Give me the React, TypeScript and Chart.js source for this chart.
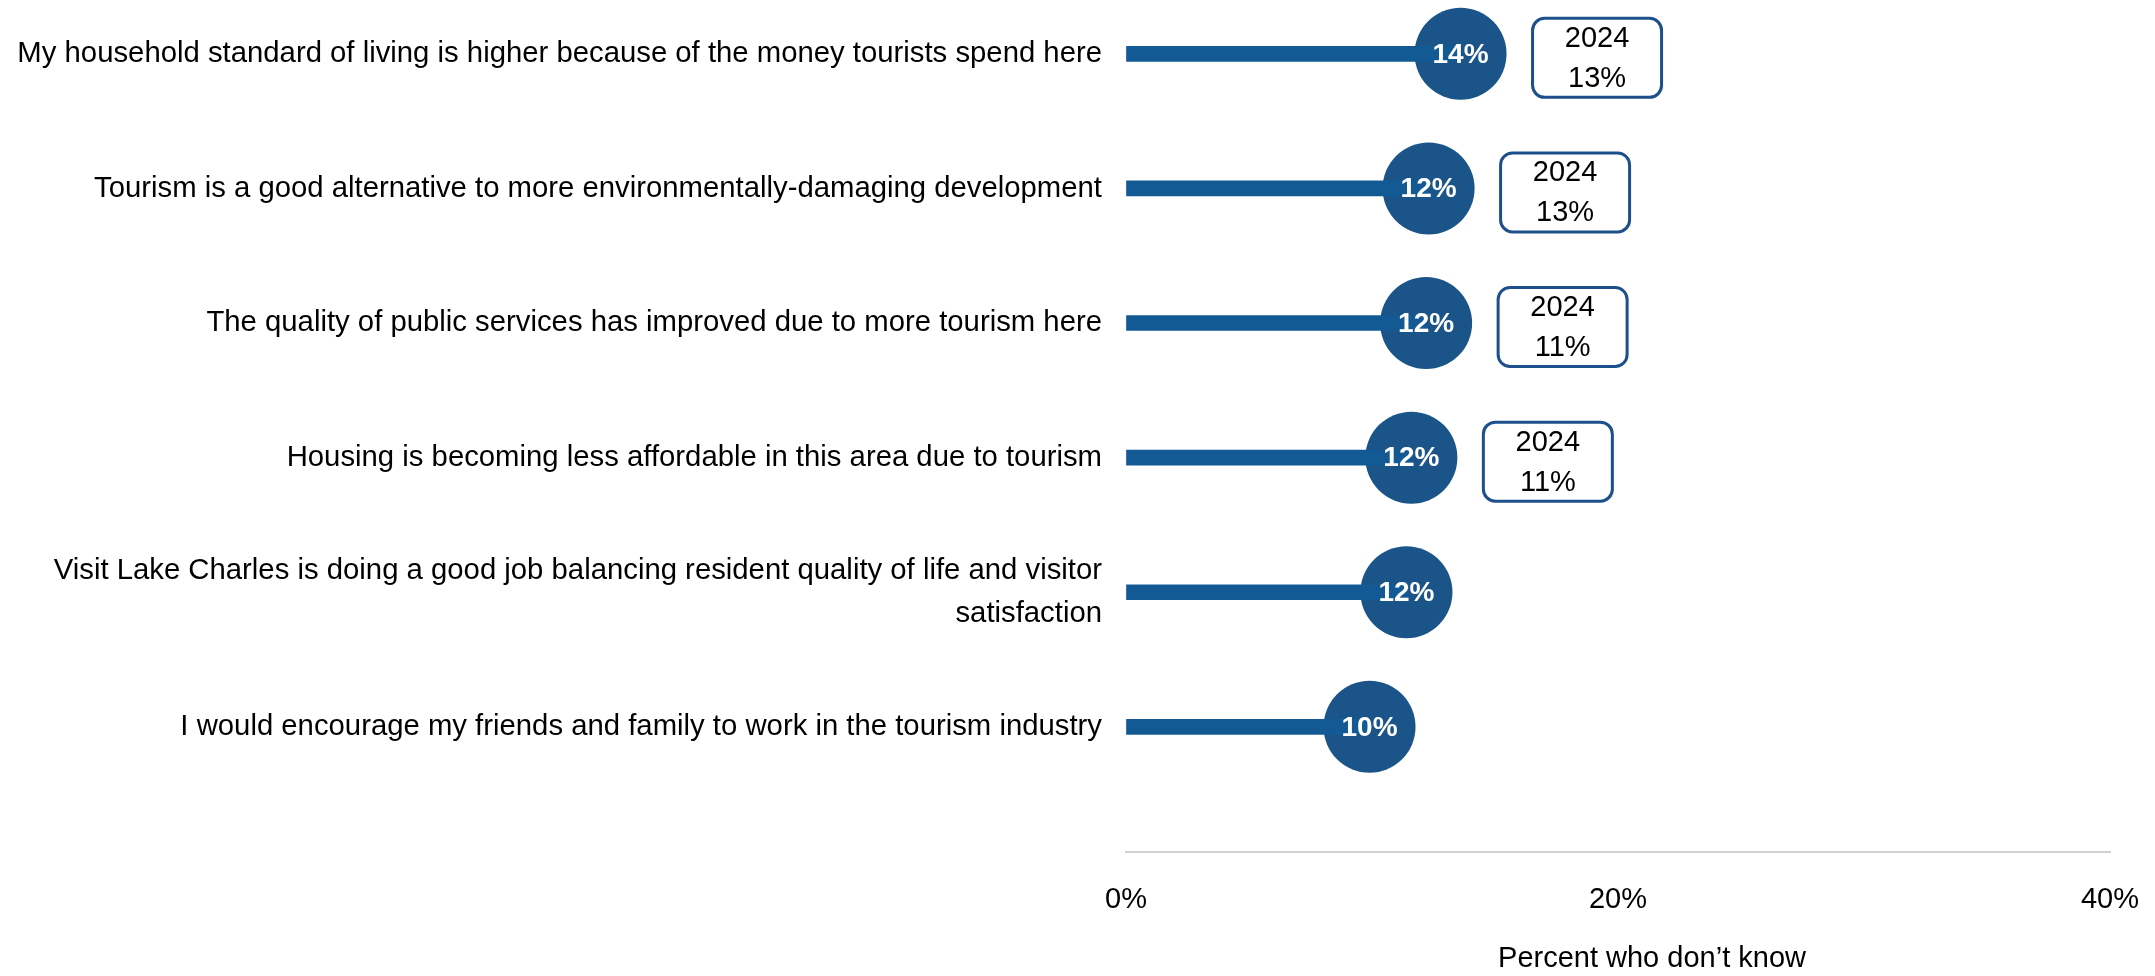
import React, { useEffect, useRef } from "react";
import { Chart, registerables } from "chart.js";

Chart.register(...registerables);

const categories: (string | string[])[] = [
  "My household standard of living is higher because of the money tourists spend here",
  "Tourism is a good alternative to more environmentally-damaging development",
  "The quality of public services has improved due to more tourism here",
  "Housing is becoming less affordable in this area due to tourism",
  ["Visit Lake Charles is doing a good job balancing resident quality of life and visitor", "satisfaction"],
  "I would encourage my friends and family to work in the tourism industry",
];
const values = [13.6, 12.3, 12.2, 11.6, 11.4, 9.9];
const valueLabels = ["14%", "12%", "12%", "12%", "12%", "10%"];
const priorYear = "2024";
const priorValues: (number | null)[] = [13, 13, 11, 11, null, null];
const xTickValues = [0, 20, 40];
const axisTitle = "Percent who don\u2019t know";

const FONT = '"Liberation Sans", Arial, sans-serif';
const BAR_COLOR = "#135a94";
const DOT_COLOR = "#1a5489";
const BOX_BORDER = "#1d4f8a";

const overlayPlugin = {
  id: "overlay",
  afterDatasetsDraw(chart: any) {
    const ctx = chart.ctx as CanvasRenderingContext2D;
    const meta = chart.getDatasetMeta(1);
    meta.data.forEach((pt: any, i: number) => {
      const { x, y } = pt;
      const r = pt.options.radius;
      ctx.save();
      ctx.fillStyle = "#ffffff";
      ctx.font = `bold 28px ${FONT}`;
      ctx.textAlign = "center";
      ctx.textBaseline = "middle";
      ctx.fillText(valueLabels[i], x, y + 1);
      const pv = priorValues[i];
      if (pv != null) {
        const bw = 129;
        const bh = 79;
        const bx = x + r + 26;
        const by = y + 4 - bh / 2;
        ctx.beginPath();
        (ctx as any).roundRect(bx, by, bw, bh, 12);
        ctx.fillStyle = "#ffffff";
        ctx.fill();
        ctx.lineWidth = 3;
        ctx.strokeStyle = BOX_BORDER;
        ctx.stroke();
        ctx.fillStyle = "#000000";
        ctx.font = `29px ${FONT}`;
        ctx.fillText(priorYear, bx + bw / 2, by + bh / 2 - 19);
        ctx.fillText(`${pv}%`, bx + bw / 2, by + bh / 2 + 21);
      }
      ctx.restore();
    });
    const area = chart.chartArea;
    ctx.save();
    ctx.fillStyle = "#000000";
    ctx.font = `29px ${FONT}`;
    ctx.textAlign = "center";
    ctx.textBaseline = "middle";
    ctx.fillText(axisTitle, (area.left + area.right) / 2 + 34, area.bottom + 107);
    ctx.restore();
  },
};

export default function App() {
  const ref = useRef<HTMLCanvasElement | null>(null);

  useEffect(() => {
    document.body.style.margin = "0";
    const canvas = ref.current;
    if (!canvas) return;
    const chart = new Chart(canvas, {
      type: "bar",
      data: {
        datasets: [
          {
            type: "bar",
            indexAxis: "y",
            data: values.map((v, i) => ({ x: v, y: i })),
            backgroundColor: BAR_COLOR,
            barThickness: 15,
            borderWidth: 0,
          } as any,
          {
            type: "scatter",
            data: values.map((v, i) => ({ x: v, y: i })),
            pointRadius: 46,
            pointHoverRadius: 46,
            pointBackgroundColor: DOT_COLOR,
            pointBorderWidth: 0,
            clip: false,
          } as any,
        ],
      },
      options: {
        animation: false,
        responsive: true,
        maintainAspectRatio: false,
        layout: { autoPadding: false, padding: { left: 0, right: 45, top: 0, bottom: 0 } },
        plugins: {
          legend: { display: false },
          tooltip: { enabled: false },
        },
        scales: {
          x: {
            type: "linear",
            min: 0,
            max: 40,
            offset: false,
            afterBuildTicks: (scale: any) => {
              scale.ticks = xTickValues.map((v) => ({ value: v }));
            },
            afterFit: (scale: any) => {
              scale.height = 124;
              scale.paddingLeft = 0;
              scale.paddingRight = 0;
            },
            ticks: {
              callback: (v: any) => `${v}%`,
              font: { family: FONT, size: 29 },
              color: "#000000",
              padding: 31,
              maxRotation: 0,
            },
            grid: { display: true, offset: false, color: "rgba(0,0,0,0)", drawTicks: false },
            border: { display: true, color: "#d0d0d0", width: 2 },
          },
          y: {
            type: "linear",
            reverse: true,
            min: -0.4,
            max: 5.93,
            offset: false,
            afterBuildTicks: (scale: any) => {
              scale.ticks = categories.map((_, i) => ({ value: i }));
            },
            afterFit: (scale: any) => {
              scale.width = 1126;
              scale.paddingTop = 0;
              scale.paddingBottom = 0;
            },
            ticks: {
              callback: (v: any) => categories[v as number],
              font: { family: FONT, size: 29.3, lineHeight: 1.47 },
              color: "#000000",
              padding: 24,
            },
            grid: { display: false, offset: false, drawTicks: false },
            border: { display: false },
          },
        },
      },
      plugins: [overlayPlugin],
    });
    return () => chart.destroy();
  }, []);

  return (
    <div style={{ position: "relative", width: "2155px", height: "976px", background: "#ffffff" }}>
      <canvas ref={ref} />
    </div>
  );
}
